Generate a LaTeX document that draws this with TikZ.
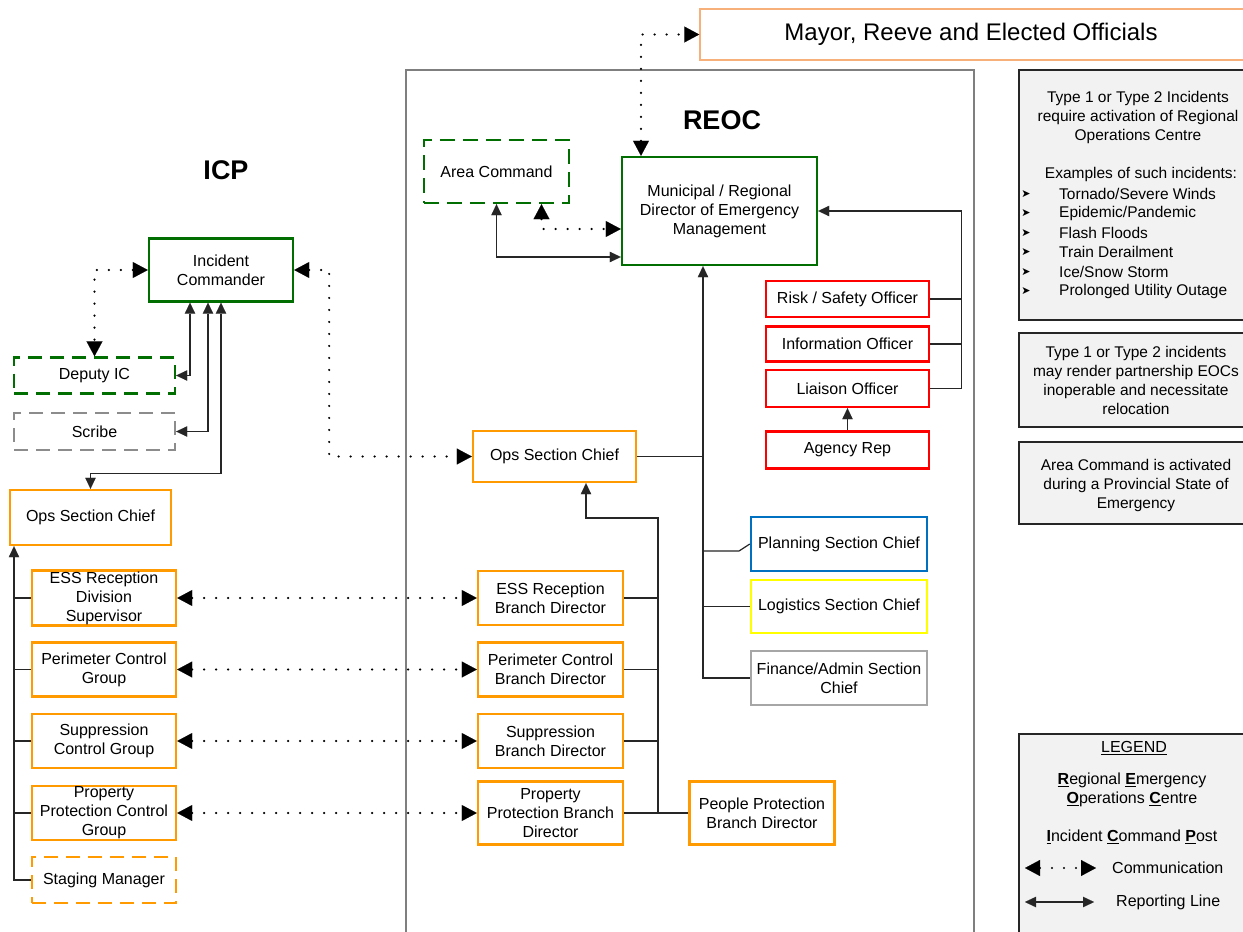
\documentclass[tikz,border=0pt]{standalone}
\usepackage{fontspec}
\setmainfont{Liberation Sans}
\newfontfamily\dejavu{DejaVu Sans}
\usetikzlibrary{arrows.meta}
\definecolor{cgreen}{HTML}{006E00}
\definecolor{corange}{HTML}{FF9A00}
\definecolor{cred}{HTML}{FF0000}
\definecolor{cblue}{HTML}{0070C0}
\definecolor{cyellow}{HTML}{FFFF00}
\definecolor{cgray}{HTML}{A6A6A6}
\definecolor{cdgray}{HTML}{7F7F7F}
\definecolor{cscribe}{HTML}{8C8C8C}
\definecolor{cmayor}{HTML}{F7B07A}
\definecolor{cinfo}{HTML}{F2F2F2}
\definecolor{cline}{HTML}{262626}
\begin{document}
\begin{tikzpicture}[x=1pt,y=-1pt,
  every node/.style={font=\fontsize{16}{19}\selectfont, inner sep=1pt, align=center},
  box/.style={draw, line width=2.4pt, fill=white},
  sz/.style 2 args={minimum width=#1pt, minimum height=#2pt},
  dashbox/.style={box, dash pattern=on 14pt off 8pt},
  gbox/.style={box, draw=cgreen},
  obox/.style={box, draw=corange},
  rbox/.style={box, draw=cred},
  rep/.style={draw=cline, line width=1.2pt},
  comm/.style={draw=black, line width=2.4pt, line cap=round, dash pattern=on 0pt off 12pt},
  RT/.tip={Triangle[length=11pt,width=10.5pt,line width=0.1pt]},
  CT/.tip={Triangle[length=15pt,width=16pt,line width=0.1pt]},
  titletxt/.style={font=\fontsize{27}{30}\selectfont\bfseries},
  infobox/.style={draw=cline, line width=1.3pt, fill=cinfo},
  itxt/.style={font=\fontsize{15.5}{19}\selectfont}
]
\useasboundingbox (0,0) rectangle (1243,932);
\fill[white] (0,0) rectangle (1243,932);

% containers
\node[draw=cdgray, line width=1.3pt, sz={568}{880}] (reocbox) at (690,510) {};
\node[draw=cmayor, line width=1.5pt, fill=white, sz={550}{51}, font=\fontsize{24}{28}\selectfont] (mayor) at (975,34.5) {\hspace*{-8pt}Mayor, Reeve and Elected Officials};

% titles
\node[titletxt] (reoclbl) at (722,120) {REOC};
\node[titletxt] (icplbl) at (226,170) {ICP};

% REOC nodes
\node[gbox, dash pattern=on 15pt off 8pt, sz={145}{63}] (areacmd) at (496.5,171.5) {Area Command};
\node[gbox, sz={195}{108}] (dir) at (719.5,211) {Municipal / Regional\\Director of Emergency\\Management};
\node[obox, sz={163}{51}] (reops) at (554.5,456.5) {Ops Section Chief};
\node[rbox, sz={163}{36}] (risk) at (847.5,299) {Risk / Safety Officer};
\node[rbox, sz={163}{35}] (info) at (847.5,344) {Information Officer};
\node[rbox, sz={163}{37}] (liai) at (847.5,388.5) {Liaison Officer};
\node[rbox, sz={163}{37}] (agen) at (847.5,450) {Agency Rep};
\node[box, draw=cblue, sz={176}{54}] (plan) at (839,544) {Planning Section Chief};
\node[box, draw=cyellow, sz={176}{53}] (logi) at (839,606.5) {Logistics Section Chief};
\node[box, draw=cgray, sz={176}{54}] (fin) at (839,678) {Finance/Admin Section\\Chief};
\node[obox, sz={145}{54}] (essb) at (550.5,598) {ESS Reception\\Branch Director};
\node[obox, sz={145}{54}] (perib) at (550.5,669.5) {Perimeter Control\\Branch Director};
\node[obox, sz={145}{54}] (suppb) at (550.5,741) {Suppression\\Branch Director};
\node[obox, sz={145}{63}] (propb) at (550.5,813) {Property\\Protection Branch\\Director};
\node[obox, sz={145}{63}] (peopb) at (762,813) {People Protection\\Branch Director};

% ICP nodes
\node[gbox, sz={144}{63}] (ic) at (221,270) {Incident\\Commander};
\node[dashbox, draw=cgreen, sz={161}{36}] (dep) at (94.5,375.5) {Deputy IC};
\node[dashbox, draw=cscribe, sz={161}{37}] (scribe) at (94.5,431.5) {Scribe};
\node[obox, sz={161}{55}] (icpops) at (90.5,517.5) {Ops Section Chief};
\node[obox, sz={144}{54}] (ess) at (104,598) {ESS Reception\\Division\\Supervisor};
\node[obox, sz={144}{54}] (peri) at (104,669.5) {Perimeter Control\\Group};
\node[obox, sz={144}{54}] (supp) at (104,741) {Suppression\\Control Group};
\node[obox, sz={144}{54}] (prop) at (104,813) {Property\\Protection Control\\Group};
\node[dashbox, draw=corange, sz={144}{46}] (stag) at (104,880) {Staging Manager};

% info boxes
\node[infobox, sz={231}{250}] (box1) at (1134.5,195) {};
\node[infobox, sz={231}{94}] (box2) at (1134.5,380) {};
\node[infobox, sz={231}{82}] (box3) at (1134.5,483) {};
\node[infobox, sz={231}{210}] (legbox) at (1134.5,839) {};

\node[itxt] (t1) at (1138,117) {Type 1 or Type 2 Incidents\\require activation of Regional\\Operations Centre};
\node[itxt] (t2) at (1141,174) {Examples of such incidents:};
\foreach \t [count=\i] in {Tornado/Severe Winds, Epidemic/Pandemic, Flash Floods, Train Derailment, Ice/Snow Storm, Prolonged Utility Outage} {
  \node[itxt, anchor=west] (bl\i) at ({1058},{194+19.4*(\i-1)}) {\t};
  \node[font=\dejavu\fontsize{11}{12}\selectfont] (bb\i) at ({1026},{194+19.4*(\i-1)}) {\char"27A4};
}
\node[itxt] (t3) at (1136,380) {Type 1 or Type 2 incidents\\may render partnership EOCs\\inoperable and necessitate\\relocation};
\node[itxt] (t4) at (1136,485) {Area Command is activated\\during a Provincial State of\\Emergency};

% legend
\node (leg) at (1134,748) {\underline{LEGEND}};
\node (leg1) at (1132,790) {\underline{\textbf{R}}egional \underline{\textbf{E}}mergency\\\underline{\textbf{O}}perations \underline{\textbf{C}}entre};
\node (leg2) at (1132,837) {\underline{\textbf{I}}ncident \underline{\textbf{C}}ommand \underline{\textbf{P}}ost};
\node[anchor=west] (leg3) at (1111,868) {Communication};
\node[anchor=west] (leg4) at (1115,902) {Reporting Line};
\coordinate (lc1) at (1025,868);
\coordinate (lc2) at (1096,868);
\coordinate (lr1) at (1025,902);
\coordinate (lr2) at (1094,902);
\draw[comm,CT-CT] (lc1) -- (lc2);
\draw[rep,RT-RT] (lr1) -- (lr2);

% communication links
\draw[comm,CT-CT] ([xshift=-78.5pt]dir.north) |- (mayor.west);
\draw[comm,CT-CT] ([xshift=45pt]areacmd.south) |- ([yshift=-18pt]dir.west);
\draw[comm,CT-CT] (ic.west) -| (dep.north);
\draw[comm,CT-CT] (ic.east) -- ++(35,0) |- (reops.west);
\foreach \a/\b in {ess/essb,peri/perib,supp/suppb,prop/propb}
  \draw[comm,CT-CT] (\a.east) -- (\b.west);

% reporting lines ICP
\draw[rep,RT-RT] ([xshift=-31pt]ic.south) |- (dep.east);
\draw[rep,RT-RT] ([xshift=-13pt]ic.south) |- (scribe.east);
\draw[rep,RT-RT] (ic.south) |- ([yshift=15pt]icpops.north) -- (icpops.north);
\draw[rep,line width=1.6pt,RT-] ([xshift=-76.5pt]icpops.south) |- (stag.west);
\foreach \n in {ess,peri,supp,prop}
  \draw[rep] (\n.west) -- ++(-18,0);

% reporting lines REOC
\draw[rep,RT-RT] (areacmd.south) |- ([yshift=-46pt]dir.west);
\coordinate (bus) at (658,518);
\draw[rep,RT-] ([xshift=31.5pt]reops.south) |- (bus) -- (bus |- propb.east);
\foreach \n in {essb,perib,suppb}
  \draw[rep] (\n.east) -- (\n.east -| bus);
\draw[rep] (propb.east) -- (peopb.west);
\coordinate (trunk) at (703,456.5);
\draw[rep] (reops.east) -- (trunk);
\draw[rep,line width=2.2pt,-RT] (trunk) -- (trunk |- dir.south);
\draw[rep] (trunk) |- (fin.west);
\draw[rep] (logi.west) -- (logi.west -| trunk);
\coordinate (pk) at (739,551);
\draw[rep] (plan.west) -- (pk) -- (pk -| trunk);
\draw[rep,-RT] (liai.east) -- ++(31,0) |- (dir.east);
\draw[rep] (risk.east) -- ++(31,0);
\draw[rep] (info.east) -- ++(31,0);
\draw[rep,-RT] (agen.north) -- (liai.south);
\end{tikzpicture}
\end{document}
